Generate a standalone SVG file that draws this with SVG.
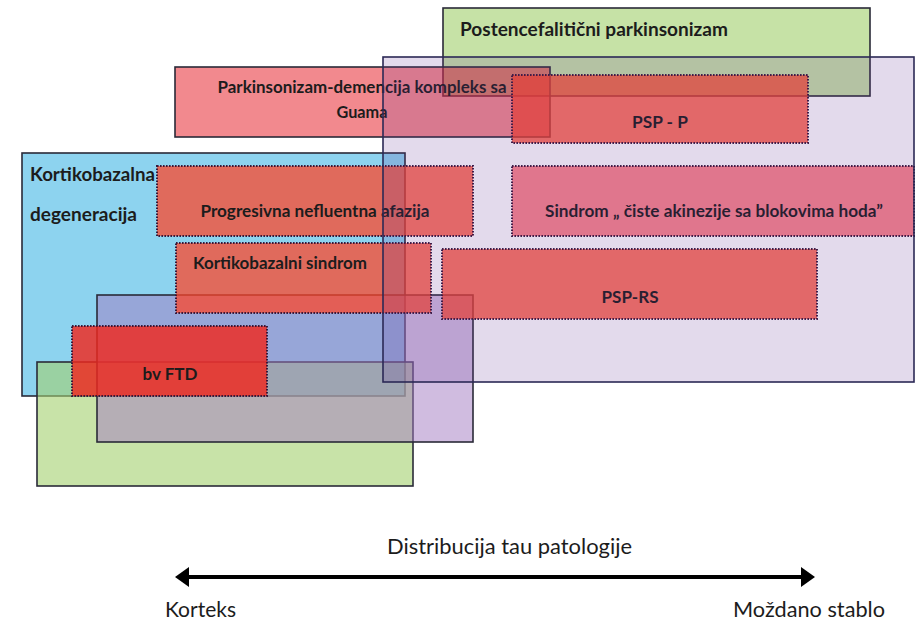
<svg xmlns="http://www.w3.org/2000/svg" width="916" height="620" viewBox="0 0 916 620">
<style>
.solid{stroke:#2a2a38;stroke-width:1.6}
.dot{stroke:#3a1838;stroke-width:2;stroke-dasharray:1.6 1.4}
.red{fill:rgb(253,69,40);fill-opacity:0.74}
.lbl{font-family:Lato,"Open Sans","Liberation Sans",sans-serif;font-weight:bold;font-size:17px;fill:#1c1c1c}
.big{font-size:19px}
.axis{font-family:Lato,"Open Sans","Liberation Sans",sans-serif;font-size:21px;fill:#1c1c1c}
</style>
<defs>
<marker id="ah" viewBox="0 0 14 20" refX="2" refY="10" markerWidth="14" markerHeight="20" markerUnits="userSpaceOnUse" orient="auto-start-reverse">
<path d="M0,0 L14,10 L0,20 z" fill="#000"/>
</marker>
</defs>
<rect width="916" height="620" fill="#fff"/>
<g id="postencefaliticni">
<rect class="solid" x="443" y="8" width="427" height="88" fill="#c6e2a6"/>
<text class="lbl big" x="460" y="36" textLength="268" lengthAdjust="spacingAndGlyphs">Postencefalitični parkinsonizam</text>
</g>
<g id="pdk-guam">
<rect class="solid" x="175" y="67" width="375" height="70" fill="rgb(232,40,50)" fill-opacity="0.55"/>
<text class="lbl" x="362" y="93" text-anchor="middle" textLength="289" lengthAdjust="spacingAndGlyphs">Parkinsonizam-demencija kompleks sa</text>
<text class="lbl" x="362" y="118" text-anchor="middle" textLength="51" lengthAdjust="spacingAndGlyphs">Guama</text>
</g>
<g id="psp-p">
<rect class="dot red" x="512" y="75" width="296" height="68"/>
<text class="lbl" x="660" y="128" text-anchor="middle" textLength="56" lengthAdjust="spacingAndGlyphs">PSP - P</text>
</g>
<g id="kortikobazalna-degeneracija">
<rect class="solid" x="22" y="153" width="383" height="243" fill="#8dd3ef"/>
<text class="lbl big" x="30" y="181" textLength="125" lengthAdjust="spacingAndGlyphs">Kortikobazalna</text>
<text class="lbl big" x="30" y="221" textLength="107" lengthAdjust="spacingAndGlyphs">degeneracija</text>
</g>
<g id="green-bottom">
<rect class="solid" x="37" y="362" width="376" height="124" fill="rgb(163,208,110)" fill-opacity="0.6"/>
</g>
<g id="slate">
<rect class="solid" x="97" y="295" width="376" height="147" fill="rgb(161,121,193)" fill-opacity="0.5"/>
</g>
<g id="pna">
<rect class="dot red" x="157" y="166" width="316" height="70"/>
<text class="lbl" x="315" y="217" text-anchor="middle" textLength="229" lengthAdjust="spacingAndGlyphs">Progresivna nefluentna afazija</text>
</g>
<g id="kbs">
<rect class="dot red" x="176" y="243" width="255" height="70"/>
<text class="lbl" x="193" y="269" textLength="174" lengthAdjust="spacingAndGlyphs">Kortikobazalni sindrom</text>
</g>
<g id="sindrom">
<rect class="dot" x="512" y="166" width="402" height="70" fill="rgb(250,60,70)" fill-opacity="0.62"/>
<text class="lbl" x="714" y="217" text-anchor="middle" textLength="338" lengthAdjust="spacingAndGlyphs">Sindrom „ čiste akinezije sa blokovima hoda”</text>
</g>
<g id="psp-rs">
<rect class="dot red" x="442" y="249" width="375" height="70"/>
<text class="lbl" x="630" y="303" text-anchor="middle" textLength="57" lengthAdjust="spacingAndGlyphs">PSP-RS</text>
</g>
<g id="bvftd">
<rect class="dot" x="72" y="326" width="195" height="70" fill="rgb(240,40,30)" fill-opacity="0.82"/>
<text class="lbl" x="170" y="380" text-anchor="middle" textLength="55" lengthAdjust="spacingAndGlyphs">bv FTD</text>
</g>
<g id="psp">
<rect x="383" y="57" width="531" height="325" fill="rgb(100,50,150)" fill-opacity="0.18" stroke="#2b2855" stroke-width="1.6"/>
</g>
<g id="connectors">
<line x1="187" y1="577" x2="803" y2="577" stroke="#000" stroke-width="4" marker-start="url(#ah)" marker-end="url(#ah)"/>
</g>
<g id="axis-labels">
<text class="axis" x="509.5" y="554" text-anchor="middle" textLength="245" lengthAdjust="spacingAndGlyphs">Distribucija tau patologije</text>
<text class="axis" x="165" y="617" textLength="71" lengthAdjust="spacingAndGlyphs">Korteks</text>
<text class="axis" x="885" y="617" text-anchor="end" textLength="152" lengthAdjust="spacingAndGlyphs">Moždano stablo</text>
</g>
</svg>
